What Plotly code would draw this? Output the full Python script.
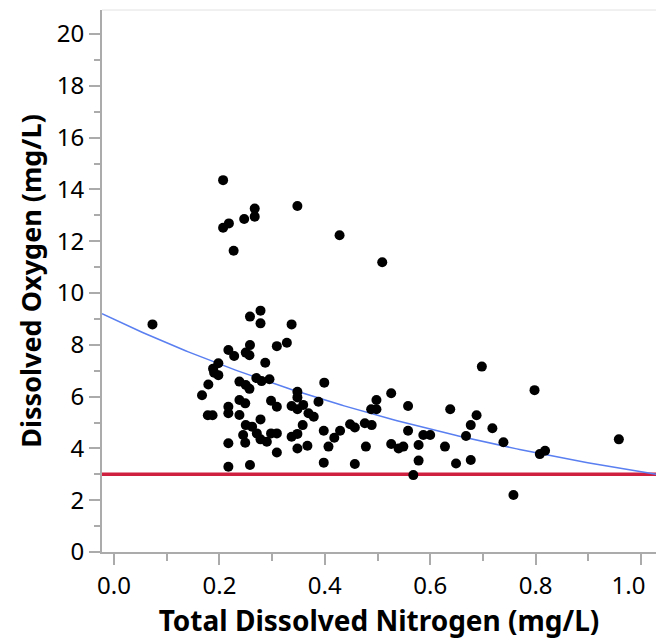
import numpy as np
import plotly.graph_objects as go

# Total Dissolved Nitrogen (mg/L)
tdn = [
    0.207, 0.207, 0.218, 0.227, 0.247, 0.267, 0.267, 0.348, 0.428, 0.509,
    0.073, 0.258, 0.278, 0.278, 0.337, 0.309, 0.328,
    0.217, 0.228, 0.250, 0.258, 0.257, 0.287,
    0.198, 0.188, 0.190, 0.198, 0.179, 0.167,
    0.238, 0.250, 0.257, 0.270, 0.280, 0.295,
    0.238, 0.249, 0.217, 0.217, 0.178, 0.187, 0.238, 0.278,
    0.250, 0.262, 0.245, 0.271, 0.278, 0.290, 0.249, 0.217, 0.217, 0.258,
    0.399, 0.348, 0.348, 0.298, 0.309, 0.337, 0.348, 0.359, 0.388, 0.369,
    0.379, 0.358, 0.398, 0.298, 0.309, 0.337, 0.348, 0.309, 0.348, 0.367,
    0.407, 0.418, 0.429, 0.448, 0.457, 0.476, 0.489, 0.488, 0.498, 0.498,
    0.526, 0.478, 0.526, 0.398, 0.457,
    0.558, 0.558, 0.540, 0.549, 0.578, 0.578, 0.568, 0.587, 0.600, 0.638,
    0.628, 0.649, 0.668, 0.677, 0.688, 0.677, 0.698, 0.718, 0.739, 0.758,
    0.798, 0.808, 0.818, 0.958,
]
# Dissolved Oxygen (mg/L)
do = [
    14.36, 12.52, 12.69, 11.63, 12.86, 13.26, 12.95, 13.36, 12.23, 11.19,
    8.79, 9.09, 9.32, 8.83, 8.79, 7.95, 8.08,
    7.80, 7.57, 7.70, 7.99, 7.60, 7.31,
    7.29, 7.08, 6.92, 6.83, 6.47, 6.05,
    6.58, 6.45, 6.30, 6.72, 6.60, 6.67,
    5.87, 5.74, 5.61, 5.36, 5.28, 5.28, 5.29, 5.12,
    4.90, 4.84, 4.52, 4.58, 4.35, 4.26, 4.22, 4.20, 3.29, 3.36,
    6.54, 6.19, 5.97, 5.84, 5.61, 5.64, 5.51, 5.68, 5.80, 5.36,
    5.22, 4.90, 4.68, 4.58, 4.58, 4.45, 4.56, 3.84, 4.00, 4.10,
    4.07, 4.41, 4.68, 4.93, 4.81, 4.97, 4.90, 5.51, 5.87, 5.51,
    6.13, 4.07, 4.17, 3.45, 3.40,
    5.64, 4.68, 4.00, 4.07, 4.13, 3.53, 2.97, 4.52, 4.52, 5.51,
    4.07, 3.42, 4.48, 4.90, 5.28, 3.55, 7.16, 4.78, 4.24, 2.20,
    6.25, 3.78, 3.91, 4.35,
]

x_tick_vals = [0, 0.2, 0.4, 0.6, 0.8, 1.0]
x_tick_text = ["0.0", "0.2", "0.4", "0.6", "0.8", "1.0\u00a0\u00a0\u00a0\u00a0"]
y_tick_vals = [0, 2, 4, 6, 8, 10, 12, 14, 16, 18, 20]

# Exponential fit DO = A * exp(B * TDN)
FIT_A = 8.98
FIT_B = -1.064
THRESHOLD = 3.0

X_RANGE = [-0.0228, 1.0285]
Y_RANGE = [0, 20.93]

x_fit = np.linspace(X_RANGE[0], X_RANGE[1], 200)
y_fit = FIT_A * np.exp(FIT_B * x_fit)

AXIS_GREY = "#ababab"

fig = go.Figure()
fig.add_hline(y=THRESHOLD, line=dict(color="#d0203f", width=3.5), layer="below")
fig.add_trace(go.Scatter(x=x_fit, y=y_fit, mode="lines",
                         line=dict(color="#5a7ff0", width=1.5), hoverinfo="skip"))
fig.add_trace(go.Scatter(x=tdn, y=do, mode="markers",
                         marker=dict(color="black", size=10, line=dict(width=0))))

fig.add_shape(type="line", xref="paper", yref="paper", x0=0, x1=1, y0=1, y1=1,
              line=dict(color="#e2e2e2", width=1))

font_family = "Noto Sans, Open Sans, sans-serif"
fig.update_layout(
    width=657, height=639,
    margin=dict(l=102, r=1, t=10, b=87),
    paper_bgcolor="white", plot_bgcolor="white",
    showlegend=False,
    font=dict(family=font_family, color="black", size=24),
    xaxis=dict(
        range=X_RANGE, tickvals=x_tick_vals, ticktext=x_tick_text,
        ticks="outside", ticklen=11, tickcolor=AXIS_GREY, tickwidth=1.5,
        minor=dict(dtick=0.1, tick0=0, ticks="outside", ticklen=7,
                   tickcolor=AXIS_GREY, tickwidth=1.5, showgrid=False),
        showline=True, linecolor=AXIS_GREY, linewidth=2,
        showgrid=False, zeroline=False, automargin=False,
        ticklabeloverflow="allow",
        tickfont=dict(size=24),
        title=dict(text="<b>Total Dissolved Nitrogen (mg/L)</b>", font=dict(size=28), standoff=3),
    ),
    yaxis=dict(
        range=Y_RANGE, tickvals=y_tick_vals,
        ticks="outside", ticklen=11, tickcolor=AXIS_GREY, tickwidth=1.5,
        minor=dict(dtick=1, tick0=0, ticks="outside", ticklen=6,
                   tickcolor=AXIS_GREY, tickwidth=1.5, showgrid=False),
        showline=True, linecolor=AXIS_GREY, linewidth=2,
        showgrid=False, zeroline=False, automargin=False,
        tickfont=dict(size=24),
        title=dict(text="<b>Dissolved Oxygen (mg/L)</b>", font=dict(size=27), standoff=7),
    ),
)

fig.write_html("out.html", config={"displayModeBar": False},
               post_script="document.body.style.margin='0';document.body.style.overflow='hidden';")
